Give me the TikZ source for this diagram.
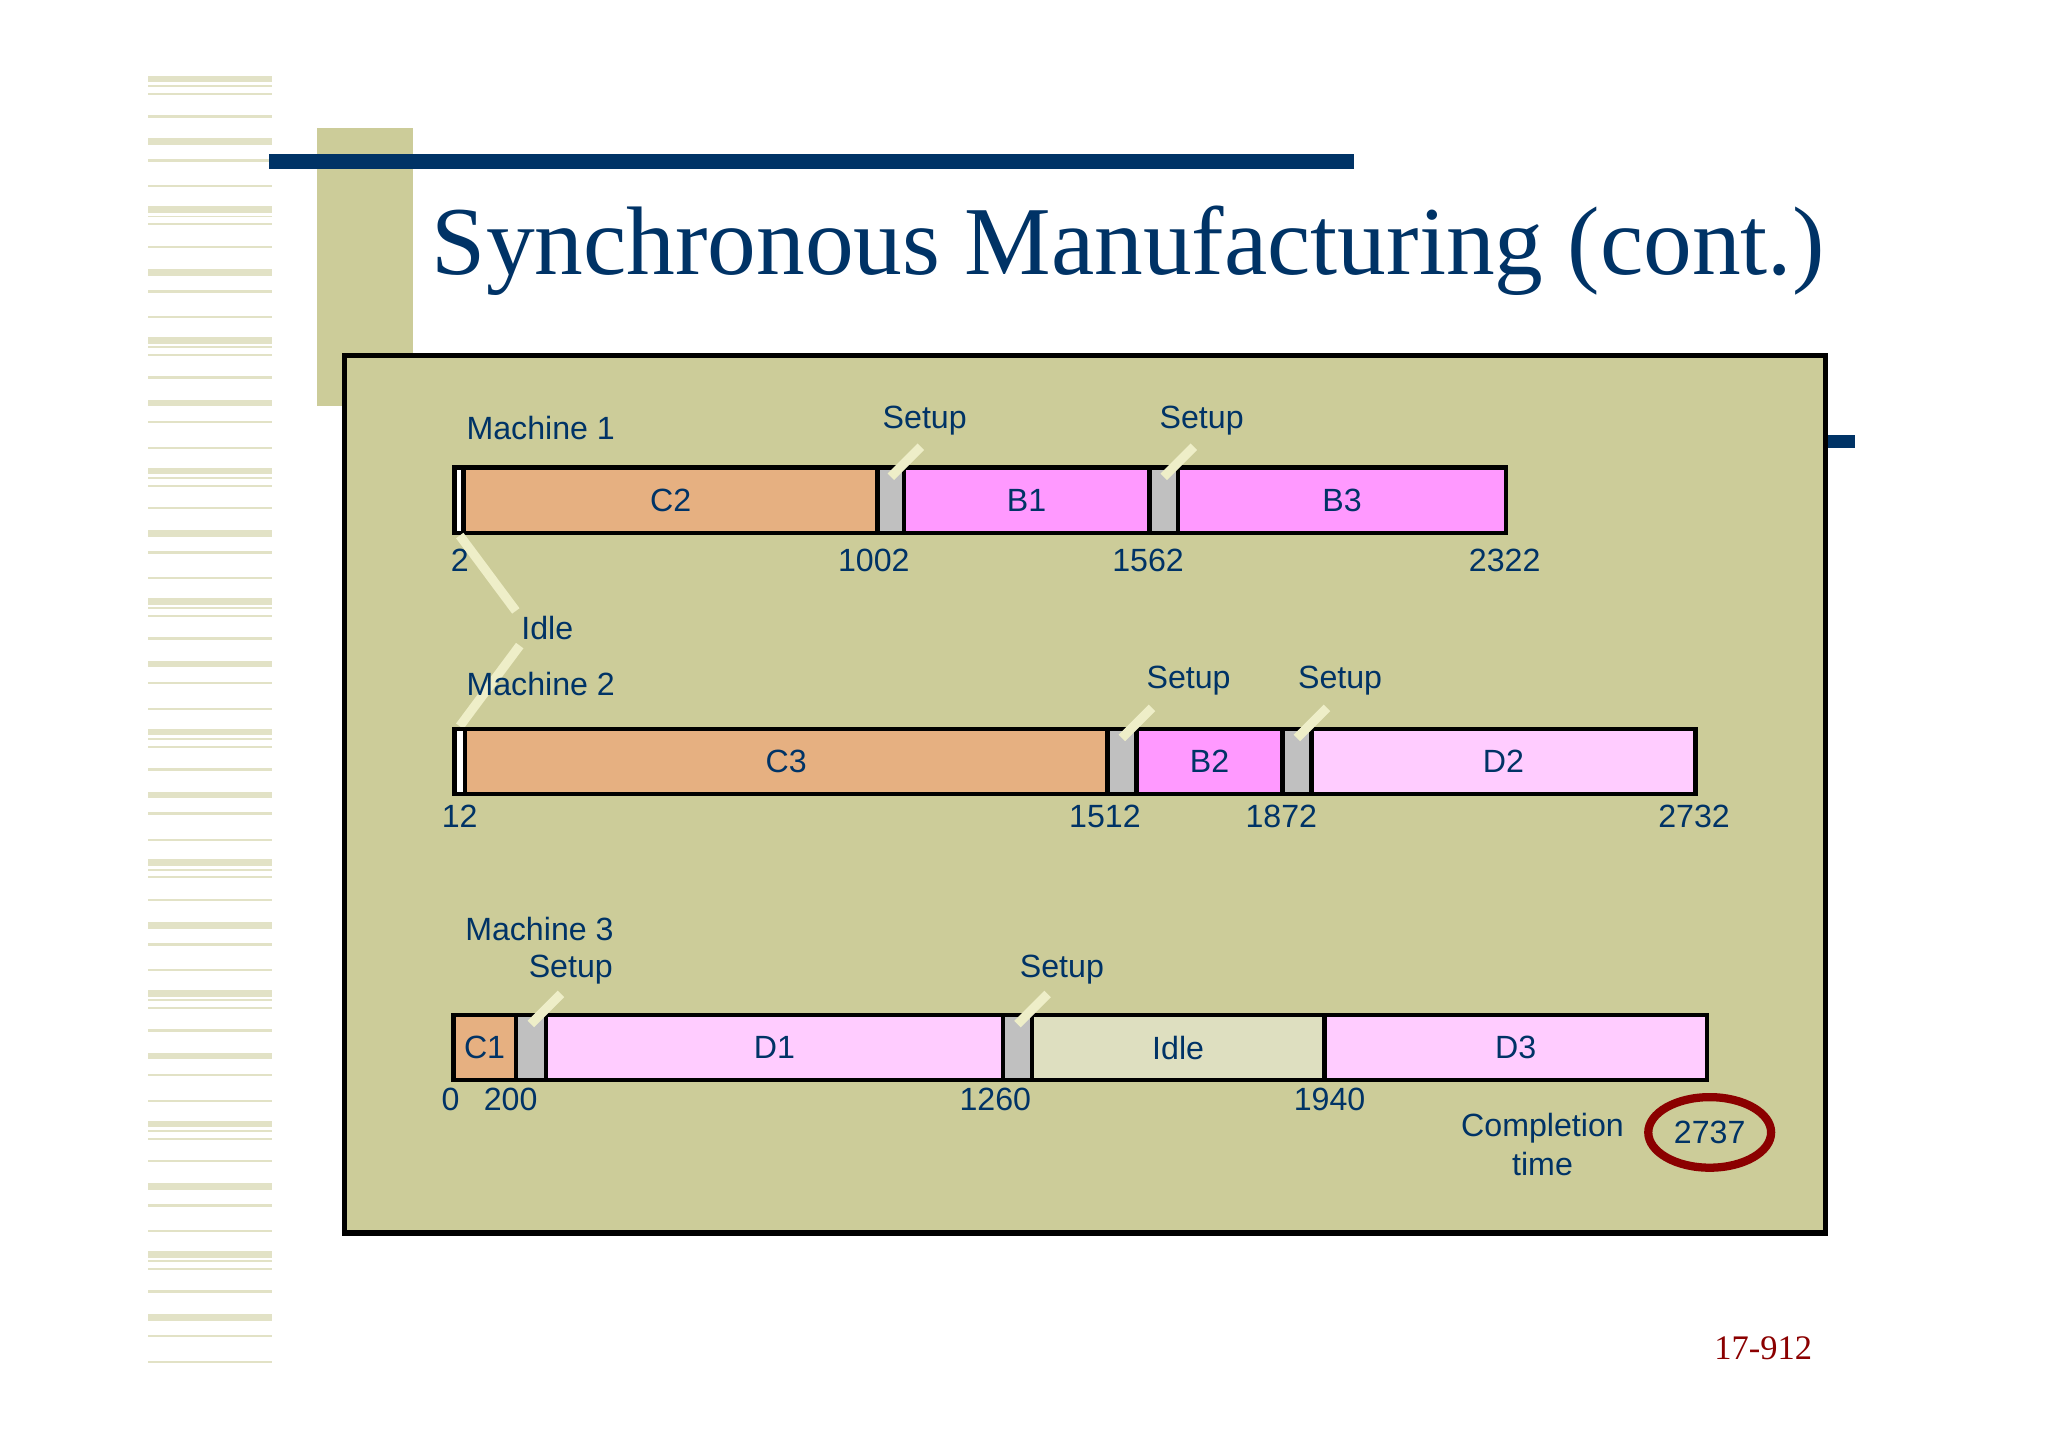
\documentclass[tikz,border=0pt]{standalone}
\usepackage{fontspec}
\setmainfont{Liberation Sans}
\newfontfamily\titlefont{Liberation Serif}
\usetikzlibrary{positioning, shapes.geometric}
\definecolor{navy}{HTML}{003366}
\definecolor{olive}{HTML}{CCCC99}
\definecolor{stripe}{HTML}{E2E2C6}
\definecolor{tanC}{HTML}{E6B081}
\definecolor{pinkB}{HTML}{FF99FF}
\definecolor{pinkD}{HTML}{FFCCFF}
\definecolor{idleC}{HTML}{DEDFC0}
\definecolor{setupC}{HTML}{C0C0C0}
\definecolor{pointer}{HTML}{EEEEC8}
\definecolor{darkred}{HTML}{8B0000}
\tikzset{
  seg/.style={rectangle, draw=black, line width=1pt, minimum height=0.5cm, inner sep=0pt, font=\fontsize{7}{8}\selectfont, text=navy},
  lbl/.style={font=\fontsize{7}{8}\selectfont, text=navy, inner sep=1pt},
  ptr/.style={draw=pointer, line width=2pt}
}
\begin{document}
\begin{tikzpicture}[x=0.01cm, y=-0.01cm]
  \useasboundingbox (0,0) rectangle (1568,1108);
  \fill[white] (0,0) rectangle (1568,1108);

  % left stripes
  \foreach \y in {58,158,...,958}
    \foreach \o/\w in {0/5,7/1.5,13/1.5,30/2,48/5,64/2,84/1.5}
      \fill[stripe] (113,\y+\o) rectangle (208,\y+\o+\w);

  % title decoration
  \fill[olive] (243,98) rectangle (316,311);
  \fill[navy] (206,118) rectangle (1037,129);
  \fill[navy] (1398,333) rectangle (1420,343);
  \node[anchor=west, inner sep=0pt, text=navy, font=\titlefont\fontsize{21.2}{26}\selectfont] (title) at (330,192) {Synchronous Manufacturing (cont.)};

  % panel
  \draw[fill=olive, line width=1.1pt] (264,272) rectangle (1398,944);

  % machine 1
  \foreach \a/\b/\c/\t [count=\i] in {348/355/white/, 355/672/tanC/C2, 672/692/setupC/, 692/880/pinkB/B1, 880/902/setupC/, 902/1153/pinkB/B3}
    \node[seg, fill=\c, minimum width={(\b-\a)*0.01cm}] (ma\i) at ({(\a+\b)/2},383) {\t};
  \node[lbl] (m1) at (414,328) {Machine 1};
  \node[lbl] (sa1) at (708,322) {Setup};
  \node[lbl] (sa2) at (920,322) {Setup};
  \foreach \x/\t in {352/2, 669/1002, 879/1562, 1152/2322}
    \node[lbl] at (\x,429) {\t};

  % idle pointer
  \node[lbl] (idle) at (419,481) {Idle};
  \coordinate (i1) at (352,410);
  \coordinate (i2) at (352,556);
  \draw[ptr] (i1) -- (idle.north west);
  \draw[ptr] ([xshift=-6pt]idle.south) -- (i2);

  % machine 2
  \foreach \a/\b/\c/\t [count=\i] in {348/356/white/, 356/848/tanC/C3, 848/870/setupC/, 870/982/pinkB/B2, 982/1004/setupC/, 1004/1298/pinkD/D2}
    \node[seg, fill=\c, minimum width={(\b-\a)*0.01cm}] (mb\i) at ({(\a+\b)/2},583) {\t};
  \node[lbl] (m2) at (414,524) {Machine 2};
  \node[lbl] (sb1) at (910,521) {Setup};
  \node[lbl] (sb2) at (1026,521) {Setup};
  \foreach \x/\t in {352/12, 846/1512, 981/1872, 1297/2732}
    \node[lbl] at (\x,625) {\t};

  % machine 3
  \foreach \a/\b/\c/\t [count=\i] in {347/395/tanC/C1, 395/418/setupC/, 418/768/pinkD/D1, 768/790/setupC/, 790/1014/idleC/Idle, 1014/1307/pinkD/D3}
    \node[seg, fill=\c, minimum width={(\b-\a)*0.01cm}] (mc\i) at ({(\a+\b)/2},802) {\t};
  \node[lbl] (m3) at (413,711) {Machine 3};
  \node[lbl] (sc1) at (437,742) {Setup};
  \node[lbl] (sc2) at (813,742) {Setup};
  \foreach \x/\t in {345/0, 391/200, 762/1260, 1018/1940}
    \node[lbl] at (\x,842) {\t};

  % setup pointers
  \foreach \s in {ma3, ma5, mb3, mb5, mc2, mc4}
    \draw[ptr] ([yshift=-2.5pt]\s.north) -- ++(0.23cm,0.23cm);

  % completion
  \node[lbl, align=center, font=\fontsize{7}{8.5}\selectfont] (comp) at (1181,876) {Completion\\time};
  \node[lbl, draw=darkred, line width=1.8pt, ellipse, minimum width=0.94cm, minimum height=0.54cm] (fin) at (1309,867) {2737};

  \node[text=darkred, font=\titlefont\fontsize{7.5}{9}\selectfont] (page) at (1350,1032) {17-912};
\end{tikzpicture}
\end{document}
